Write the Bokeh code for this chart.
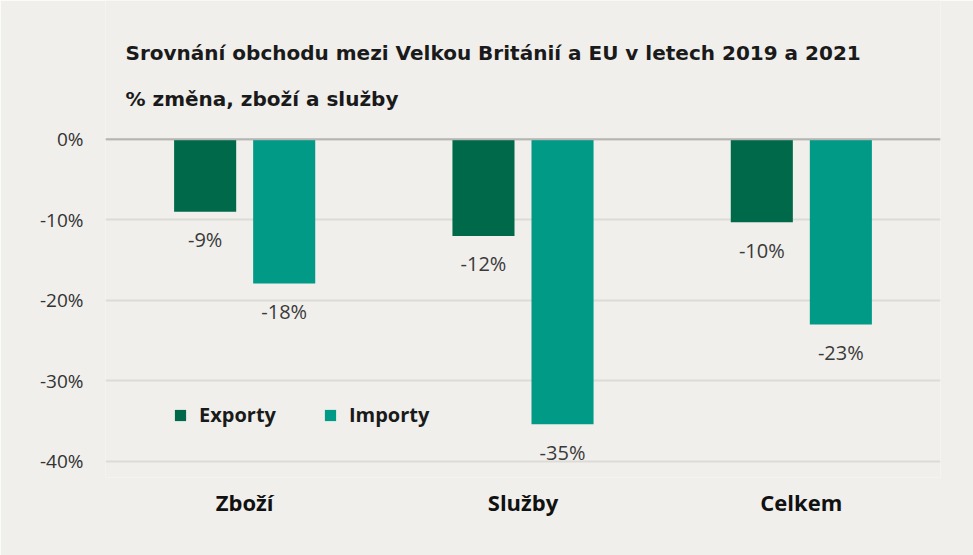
from bokeh.plotting import figure
from bokeh.models import (FactorRange, Range1d, ColumnDataSource, Legend, LegendItem,
                          Label, Span, FixedTicker, PrintfTickFormatter)
from bokeh.transform import dodge
from bokeh.core.properties import value
from bokeh.embed import file_html
from bokeh.resources import INLINE

# ---- data ----
categories = ["Zboží", "Služby", "Celkem"]
exports = [-9.0, -12.0, -10.3]
imports = [-17.9, -35.4, -23.0]
export_labels = ["-9%", "-12%", "-10%"]
import_labels = ["-18%", "-35%", "-23%"]
series_names = ["Exporty", "Importy"]
y_ticks = [0, -10, -20, -30, -40]
title_text = "Srovnání obchodu mezi Velkou Británií a EU v letech 2019 a 2021"
subtitle_text = "% změna, zboží a služby"

BG = "#f0efec"
C_EXP = "#00694a"
C_IMP = "#009a87"

src = ColumnDataSource(dict(cat=categories, exp=exports, imp=imports,
                            exp_lab=export_labels, imp_lab=import_labels))

# frame extends to the top of the canvas; the space above 0% holds the titles
p = figure(x_range=FactorRange(*categories, range_padding=0), y_range=Range1d(-42, 17.25),
           width=973, height=555, output_backend="svg", toolbar_location=None,
           title=None, min_border_left=105, min_border_right=33,
           min_border_top=0, min_border_bottom=78)
p.background_fill_color = BG
p.border_fill_color = BG
p.outline_line_color = None

# titles
for txt, yv in [(title_text, 10.69), (subtitle_text, 4.97)]:
    p.add_layout(Label(x=0, y=yv, x_offset=20, text=txt,
                       text_baseline="alphabetic", text_align="left",
                       text_font="DejaVu Sans", text_font_size="20px",
                       text_font_style="bold", text_color="#1a1a1a"))

# grid
p.xgrid.grid_line_color = None
p.ygrid.ticker = FixedTicker(ticks=y_ticks)
p.ygrid.grid_line_color = "#dcdbd6"
p.ygrid.grid_line_width = 2
p.add_layout(Span(location=0, dimension="width", line_color="#b5b5b2", line_width=2))

# bars
off = 0.142
bw = 0.223
r_exp = p.vbar(x=dodge("cat", -off, range=p.x_range), top="exp", bottom=0, width=bw,
               source=src, fill_color=C_EXP, line_color=None)
r_imp = p.vbar(x=dodge("cat", off, range=p.x_range), top="imp", bottom=0, width=bw,
               source=src, fill_color=C_IMP, line_color=None)

# value labels
for xo, ycol, lcol in [(-off, "exp", "exp_lab"), (off, "imp", "imp_lab")]:
    p.text(x=dodge("cat", xo, range=p.x_range), y=ycol, text=lcol, source=src,
           text_align="center", text_baseline="middle", y_offset=28,
           text_font=value("Open Sans"), text_font_size="20px", text_color="#3a3a3a")

# axes
p.yaxis.ticker = FixedTicker(ticks=y_ticks)
p.yaxis.formatter = PrintfTickFormatter(format="%d%%")
for ax in (p.xaxis[0], p.yaxis[0]):
    ax.axis_line_color = None
    ax.major_tick_line_color = None
    ax.minor_tick_line_color = None
p.yaxis.major_label_text_font = "Open Sans"
p.yaxis.major_label_text_font_size = "19px"
p.yaxis.major_label_text_color = "#333333"
p.yaxis.major_label_standoff = 16
p.xaxis.major_label_text_font = "Open Sans"
p.xaxis.major_label_text_font_size = "22px"
p.xaxis.major_label_text_font_style = "bold"
p.xaxis.major_label_text_color = "#111111"
p.xaxis.major_label_standoff = 3

legend = Legend(items=[LegendItem(label=series_names[0], renderers=[r_exp]),
                       LegendItem(label=series_names[1], renderers=[r_imp])],
                orientation="horizontal", location=(68, 49), padding=0, spacing=47,
                glyph_width=14, glyph_height=14, label_standoff=12,
                background_fill_alpha=0, border_line_color=None,
                label_text_font="Open Sans", label_text_font_size="20px",
                label_text_font_style="bold", label_text_color="#1a1a1a")
p.add_layout(legend)

open("out.html", "w").write(file_html(p, INLINE))
